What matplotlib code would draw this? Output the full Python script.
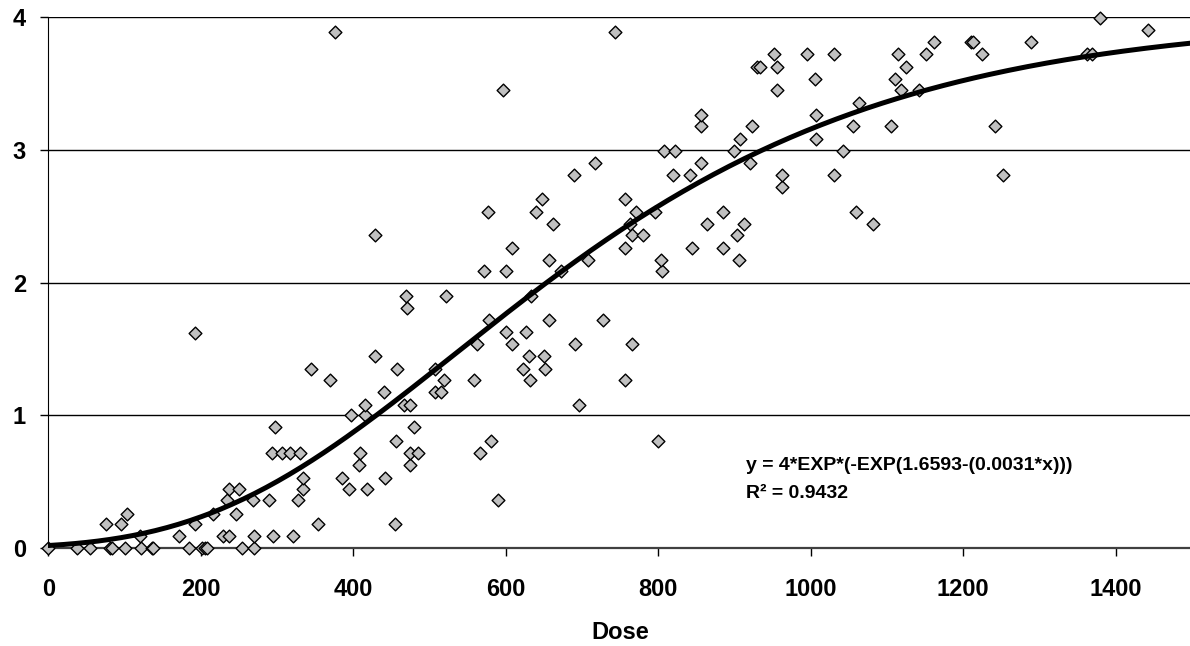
import numpy as np
import matplotlib
matplotlib.use("Agg")
import matplotlib.pyplot as plt

plt.rcParams['font.family'] = ['Liberation Sans', 'DejaVu Sans']

dose = [0, 37, 55, 81, 84, 101, 122, 136, 137, 184, 201, 205, 208, 254, 270,
        120, 172, 229, 237, 270, 295, 321,
        76, 96, 192, 354, 455,
        103, 216, 246,
        234, 269, 290, 328, 590,
        237, 250, 334, 395, 418,
        334, 385, 442,
        408, 474,
        294, 307, 317, 330, 409, 474, 485, 566,
        456, 581, 800,
        297, 480,
        397, 415,
        415, 466, 474, 696,
        440, 507, 515,
        370, 519, 558, 632, 756,
        344, 458, 507, 623, 652,
        429, 631, 650,
        562, 608, 691, 766,
        193, 600, 626,
        578, 657, 727,
        470,
        469, 521, 633,
        571, 600, 672, 805,
        657, 708, 804, 906,
        608, 756, 844, 885,
        428, 766, 780, 903,
        662, 763, 864, 912, 1082,
        577, 640, 771, 796, 885, 1060,
        647, 756,
        963,
        690, 820, 842, 963, 1031, 1252,
        717, 856, 920,
        807, 822, 900, 1043,
        907, 1007,
        856, 923, 1055, 1105, 1242,
        856, 1007,
        1063,
        597, 956, 1119, 1142,
        1006, 1111,
        929, 933, 956, 1125,
        952, 995, 1030, 1114, 1151, 1225, 1362, 1369,
        1162, 1210, 1213, 1289,
        376, 743, 1442,
        1379]

response = [0] * 15 + \
    [0.09] * 7 + \
    [0.18] * 5 + \
    [0.26] * 3 + \
    [0.36] * 5 + \
    [0.45] * 5 + \
    [0.53] * 3 + \
    [0.63] * 2 + \
    [0.72] * 8 + \
    [0.81] * 3 + \
    [0.91] * 2 + \
    [1.0] * 2 + \
    [1.08] * 4 + \
    [1.18] * 3 + \
    [1.27] * 5 + \
    [1.35] * 5 + \
    [1.45] * 3 + \
    [1.54] * 4 + \
    [1.62, 1.63, 1.63] + \
    [1.72] * 3 + \
    [1.81] + \
    [1.90] * 3 + \
    [2.09] * 4 + \
    [2.17] * 4 + \
    [2.26] * 4 + \
    [2.36] * 4 + \
    [2.44] * 5 + \
    [2.53] * 6 + \
    [2.63] * 2 + \
    [2.72] + \
    [2.81] * 6 + \
    [2.90] * 3 + \
    [2.99] * 4 + \
    [3.08] * 2 + \
    [3.18] * 5 + \
    [3.26] * 2 + \
    [3.35] + \
    [3.45] * 4 + \
    [3.53] * 2 + \
    [3.62] * 4 + \
    [3.72] * 8 + \
    [3.81] * 4 + \
    [3.89, 3.89, 3.90] + \
    [3.99]

# fitted Gompertz trend
a, b, c = 4, 1.6593, 0.0031
xs = np.linspace(0, 1500, 300)
ys = a * np.exp(-np.exp(b - c * xs))

fig = plt.figure(figsize=(11.9, 6.46), dpi=100)
ax = fig.add_axes([48.3 / 1190, 97.7 / 646, 1143.6 / 1190, 531.3 / 646])

ax.scatter(dose, response, marker='D', s=42, facecolor='#c0c0c0',
           edgecolor='black', linewidth=1, zorder=3, clip_on=False)
ax.plot(xs, ys, color='black', lw=3.6, zorder=4)

ax.set_xlim(0, 1500)
ax.set_ylim(0, 4)
ax.set_xticks(range(0, 1401, 200))
ax.set_yticks(range(0, 5))
ax.yaxis.grid(True, color='black', lw=1)
ax.set_axisbelow(True)

for s in ['top', 'right']:
    ax.spines[s].set_visible(False)
ax.spines['left'].set_color('black')
ax.spines['bottom'].set_color('#404040')
ax.spines['bottom'].set_linewidth(1.6)

ax.tick_params(axis='y', direction='out', length=6, width=1, pad=10,
               labelsize=17)
ax.tick_params(axis='x', direction='out', length=6, width=1, pad=15.5,
               labelsize=17)
for lab in ax.get_xticklabels() + ax.get_yticklabels():
    lab.set_fontweight('bold')

ax.set_xlabel('Dose', fontsize=17, fontweight='bold', labelpad=14)

ax.text(915, 0.626, 'y = 4*EXP*(-EXP(1.6593-(0.0031*x)))', fontsize=14,
        fontweight='bold', va='center', ha='left')
ax.text(915, 0.41, 'R² = 0.9432', fontsize=14, fontweight='bold',
        va='center', ha='left')

fig.savefig('out.png', dpi=100)
